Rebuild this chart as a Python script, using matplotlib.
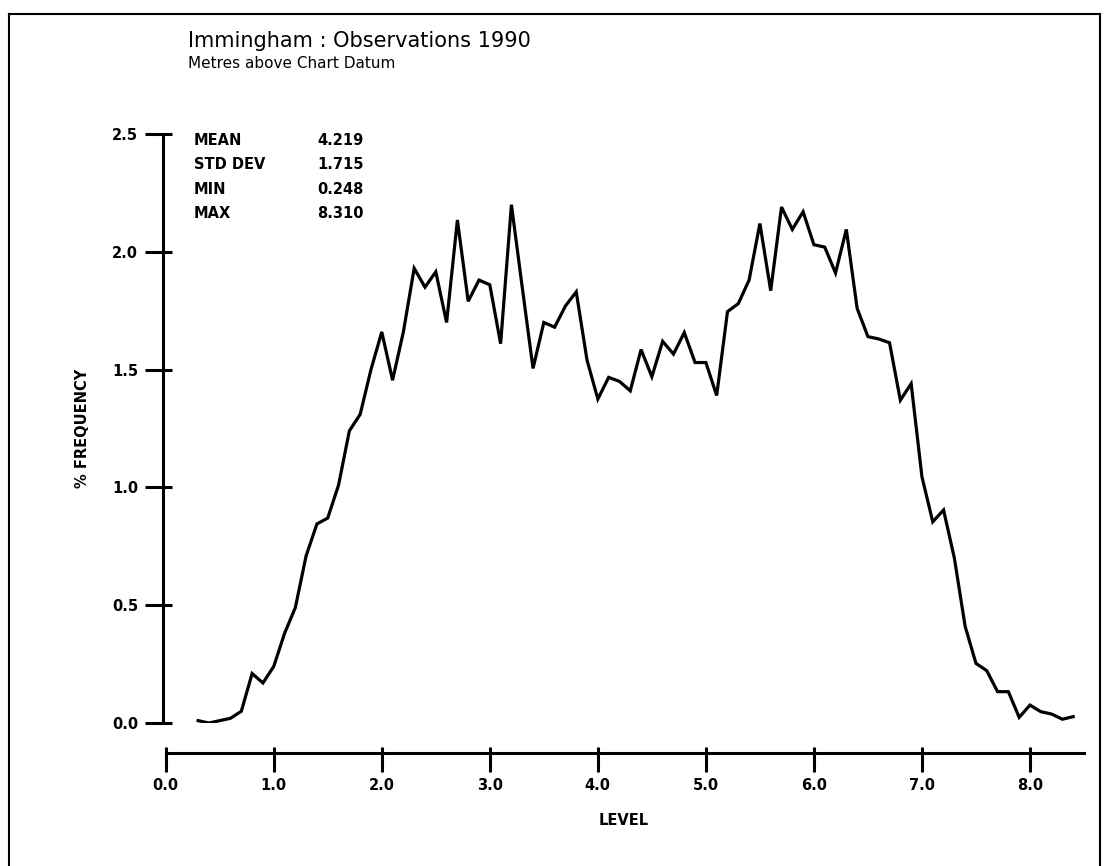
import numpy as np
import matplotlib
matplotlib.use("Agg")
import matplotlib.pyplot as plt
from matplotlib.lines import Line2D
from matplotlib.ticker import MultipleLocator

# tide level classes (m above chart datum) and % frequency
level = np.round(np.arange(0.3, 8.45, 0.1), 1)
freq = [0.01, 0.00, 0.01, 0.02, 0.05, 0.21, 0.17,
        0.24, 0.38, 0.49, 0.71, 0.845, 0.87, 1.01, 1.24, 1.31, 1.50,
        1.66, 1.455, 1.66, 1.93, 1.85, 1.915, 1.70, 2.135, 1.79, 1.88,
        1.86, 1.61, 2.20, 1.85, 1.505, 1.70, 1.68, 1.77, 1.83, 1.54,
        1.375, 1.467, 1.45, 1.41, 1.585, 1.47, 1.62, 1.566, 1.657, 1.53,
        1.53, 1.39, 1.746, 1.78, 1.88, 2.12, 1.835, 2.19, 2.095, 2.17,
        2.03, 2.02, 1.91, 2.095, 1.76, 1.64, 1.63, 1.614, 1.37, 1.44,
        1.045, 0.854, 0.904, 0.70, 0.41, 0.253, 0.222, 0.133, 0.133, 0.024,
        0.076, 0.048, 0.038, 0.016, 0.027]

stat_names = ["MEAN", "STD DEV", "MIN", "MAX"]
stat_values = ["4.219", "1.715", "0.248", "8.310"]

title = "Immingham : Observations 1990"
subtitle = "Metres above Chart Datum"

W, H = 1108, 866
fig = plt.figure(figsize=(W / 100, H / 100), dpi=100)

# axes box in pixels: left 163, right 1084, y=0 at 723, y=2.5 at 134
ax = fig.add_axes([163 / W, (H - 723) / H, (1084 - 163) / W, (723 - 134) / H])
ax.plot(level, freq, color="black", lw=2.3, solid_joinstyle="miter")

ax.set_xlim(-0.025, 8.5)
ax.set_ylim(0, 2.5)

for s in ["top", "right"]:
    ax.spines[s].set_visible(False)
ax.spines["left"].set_bounds(0, 2.5)
ax.spines["left"].set_linewidth(2.2)
ax.spines["bottom"].set_bounds(0, 8.5)
ax.spines["bottom"].set_linewidth(2.2)
ax.spines["bottom"].set_position(("outward", 21.6))

ax.xaxis.set_major_locator(MultipleLocator(1.0))
ax.xaxis.set_minor_locator(MultipleLocator(1.0))
ax.yaxis.set_major_locator(MultipleLocator(0.5))
ax.yaxis.set_minor_locator(MultipleLocator(0.5))
ax.xaxis.remove_overlapping_locs = False
ax.yaxis.remove_overlapping_locs = False

ax.tick_params(axis="x", which="major", direction="out", length=13.7, width=2.2, pad=4)
ax.tick_params(axis="x", which="minor", direction="in", length=4.3, width=2.2)
ax.tick_params(axis="y", which="major", direction="out", length=13, width=2.2, pad=5)
ax.tick_params(axis="y", which="minor", direction="in", length=6.5, width=2.2)

ax.set_xticks(np.arange(0, 9, 1.0))
ax.set_xticklabels([f"{v:.1f}" for v in np.arange(0, 9, 1.0)], fontsize=10.5, fontweight="bold")
ax.set_yticks(np.arange(0, 2.75, 0.5))
ax.set_yticklabels([f"{v:.1f}" for v in np.arange(0, 2.75, 0.5)], fontsize=10.5, fontweight="bold")

ax.set_xlabel("LEVEL", fontsize=10.5, fontweight="bold")
ax.xaxis.set_label_coords(0.5, (723 - 813) / (723 - 134))
ax.set_ylabel("% FREQUENCY", fontsize=10.5, fontweight="bold")
ax.yaxis.set_label_coords((90 - 163) / (1084 - 163), 0.5)

rows_y = [141, 165, 190, 214]
for name, val, yp in zip(stat_names, stat_values, rows_y):
    fy = (723 - yp) / (723 - 134)
    ax.text((194 - 163) / (1084 - 163), fy, name, transform=ax.transAxes,
            fontsize=10.5, fontweight="bold", va="center", ha="left")
    ax.text((317 - 163) / (1084 - 163), fy, val, transform=ax.transAxes,
            fontsize=10.5, fontweight="bold", va="center", ha="left")

fig.text(188 / W, 1 - 41 / H, title, fontsize=15, va="center", ha="left")
fig.text(188 / W, 1 - 64 / H, subtitle, fontsize=11, va="center", ha="left")

# frame around the sheet (bottom edge lies off the scan)
bx0, bx1, by1 = 9 / W, 1100 / W, 1 - 14 / H
fig.add_artist(Line2D([bx0, bx0], [0, by1], color="black", lw=1.5))
fig.add_artist(Line2D([bx0, bx1], [by1, by1], color="black", lw=1.5))
fig.add_artist(Line2D([bx1, bx1], [0, by1], color="black", lw=1.5))

fig.savefig("out.png", dpi=100)
